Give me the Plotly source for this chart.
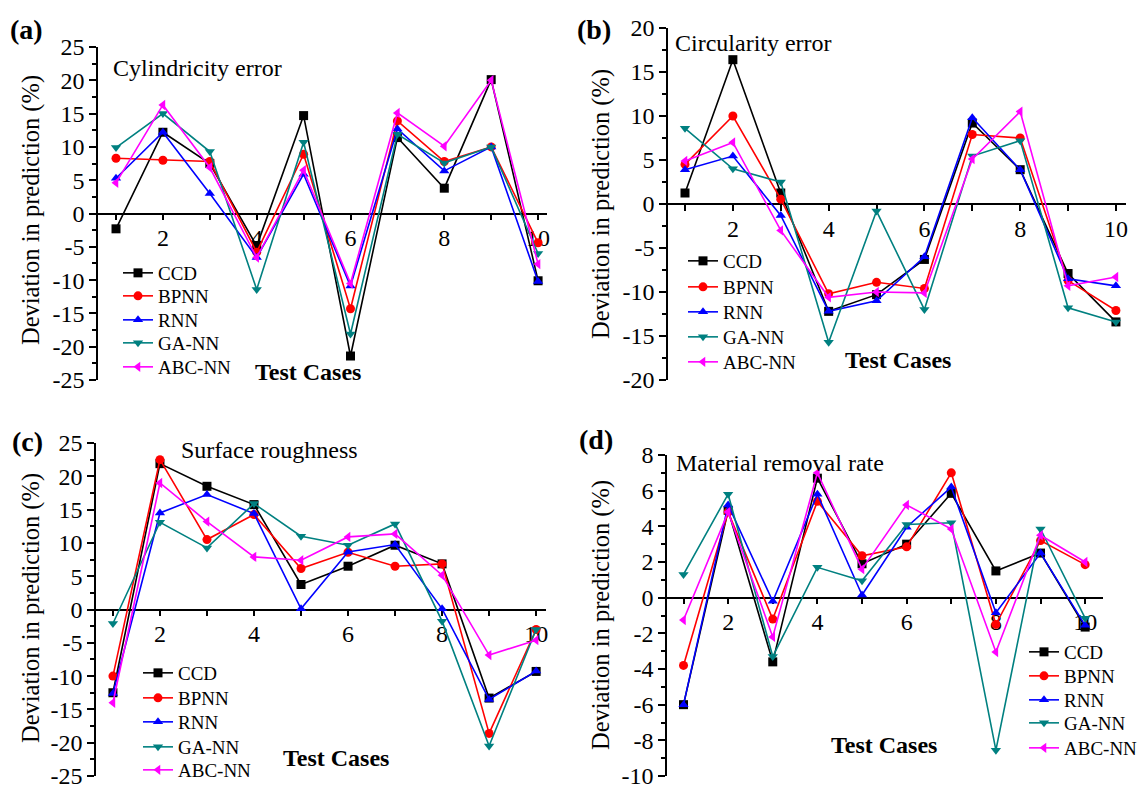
import plotly.graph_objects as go

W, H = 1145, 788

cases = [1, 2, 3, 4, 5, 6, 7, 8, 9, 10]
methods = ["CCD", "BPNN", "RNN", "GA-NN", "ABC-NN"]

# (a) Cylindricity error
cyl_ccd = [-2.3, 12.2, 7.5, -4.9, 14.7, -21.4, 11.4, 3.8, 20.1, -10.1]
cyl_bpnn = [8.3, 8.0, 7.8, -5.8, 8.9, -14.3, 13.9, 7.8, 10.0, -4.4]
cyl_rnn = [5.3, 12.2, 3.0, -6.6, 5.9, -10.9, 12.7, 6.4, 10.0, -10.2]
cyl_ga = [9.9, 15.0, 9.3, -11.4, 10.7, -18.1, 11.9, 7.6, 10.0, -6.0]
cyl_abc = [4.6, 16.3, 6.9, -6.6, 6.5, -10.5, 15.1, 10.1, 20.0, -7.6]

# (b) Circularity error
cir_ccd = [1.25, 16.4, 1.25, -12.2, -10.3, -6.3, 9.2, 3.9, -7.9, -13.4]
cir_bpnn = [4.5, 10.0, 0.55, -10.2, -8.9, -9.6, 7.9, 7.5, -8.7, -12.1]
cir_rnn = [3.9, 5.45, -1.3, -12.2, -11.0, -6.0, 9.8, 3.9, -8.5, -9.3]
cir_ga = [8.6, 4.0, 2.5, -15.7, -0.8, -12.0, 5.45, 7.2, -11.8, -13.4]
cir_abc = [4.9, 7.0, -3.0, -10.6, -10.0, -10.1, 5.1, 10.5, -9.3, -8.3]

# (c) Surface roughness
sr_ccd = [-12.5, 21.9, 18.5, 15.75, 3.75, 6.5, 9.65, 6.85, -13.3, -9.3]
sr_bpnn = [-10.0, 22.5, 10.5, 14.25, 6.15, 8.6, 6.5, 6.85, -18.6, -3.0]
sr_rnn = [-12.6, 14.5, 17.25, 14.4, 0.1, 8.65, 9.75, 0.1, -13.5, -9.25]
sr_ga = [-2.1, 13.1, 9.25, 15.9, 11.0, 9.65, 12.85, -1.75, -20.5, -3.0]
sr_abc = [-14.0, 19.0, 13.2, 7.9, 7.4, 10.9, 11.35, 5.15, -6.85, -4.6]

# (d) Material removal rate
mrr_ccd = [-6.0, 4.9, -3.6, 6.7, 1.9, 3.0, 5.85, 1.5, 2.5, -1.65]
mrr_bpnn = [-3.8, 4.8, -1.2, 5.4, 2.35, 2.85, 7.0, -1.5, 3.2, 1.85]
mrr_rnn = [-6.0, 5.2, -0.2, 5.8, 0.15, 3.95, 6.2, -0.85, 2.5, -1.55]
mrr_ga = [1.3, 5.8, -3.3, 1.7, 0.95, 4.1, 4.2, -8.55, 3.85, -1.15]
mrr_abc = [-1.25, 4.8, -2.2, 7.0, 1.6, 5.2, 3.85, -3.05, 3.5, 2.0]

panel_titles = ["Cylindricity error", "Circularity error", "Surface roughness", "Material removal rate"]
panel_tags = ["(a)", "(b)", "(c)", "(d)"]
y_title = "Deviation in prediction (%)"
x_title = "Test Cases"

yticks_25 = [-25, -20, -15, -10, -5, 0, 5, 10, 15, 20, 25]
yticks_20 = [-20, -15, -10, -5, 0, 5, 10, 15, 20]
yticks_8 = [-10, -8, -6, -4, -2, 0, 2, 4, 6, 8]
xticks = [2, 4, 6, 8, 10]

colors = ["#000000", "#ff0000", "#0000ff", "#008080", "#ff00ff"]
symbols = ["square", "circle", "triangle-up", "triangle-down", "triangle-left"]

data = [
    [cyl_ccd, cyl_bpnn, cyl_rnn, cyl_ga, cyl_abc],
    [cir_ccd, cir_bpnn, cir_rnn, cir_ga, cir_abc],
    [sr_ccd, sr_bpnn, sr_rnn, sr_ga, sr_abc],
    [mrr_ccd, mrr_bpnn, mrr_rnn, mrr_ga, mrr_abc],
]

# panel geometry in pixels: (left, right, top, bottom)
geo = [(98, 547, 47, 380), (668, 1126, 28, 380), (96, 546, 443, 776), (667, 1103, 455, 776)]
xranges = [[0.616, 10.19], [0.645, 10.21], [0.64, 10.21], [0.63, 10.4]]
yranges = [[-25, 25], [-20, 20], [-25, 25], [-10, 8]]
ytickset = [yticks_25, yticks_20, yticks_25, yticks_8]
ydticks = [5, 5, 5, 2]

# legend placement (pixels): left edge and entry centres
legend_left = [118, 683, 138, 1024]
legend_rows = [[273, 296, 320, 343, 367], [261, 287, 312, 337, 362],
               [673, 698, 722, 747, 770], [652, 676, 700, 723, 748]]

def px(x):
    return x / W

def py(y):
    return 1 - y / H

FONT = "Liberation Serif"

fig = go.Figure()
layout = dict(width=W, height=H, margin=dict(l=0, r=0, t=0, b=0, autoexpand=False),
              paper_bgcolor="white", plot_bgcolor="white", showlegend=True,
              font=dict(family=FONT, color="black"))

k = 0
for p in range(4):
    xa = "x" if p == 0 else f"x{p+1}"
    ya = "y" if p == 0 else f"y{p+1}"
    for m in range(5):
        k += 1
        lg = "legend" if k == 1 else f"legend{k}"
        fig.add_trace(go.Scatter(
            x=cases, y=data[p][m], name=methods[m], mode="lines+markers",
            line=dict(color=colors[m], width=1.6),
            marker=dict(symbol=symbols[m], size=9, color=colors[m]),
            xaxis=xa, yaxis=ya, legend=lg,
        ))
        layout[lg] = dict(x=px(legend_left[p]), y=py(legend_rows[p][m]), xanchor="left", yanchor="middle",
                          bgcolor="rgba(0,0,0,0)", font=dict(family=FONT, size=19, color="black"),
                          itemwidth=30)

annotations = []
for p in range(4):
    l, r, t, b = geo[p]
    ydom = [py(b), py(t)]
    xdom = [px(l), px(r)]
    y0, y1 = yranges[p]
    zero_pos = ydom[0] + (0 - y0) / (y1 - y0) * (ydom[1] - ydom[0])
    xk = "xaxis" if p == 0 else f"xaxis{p+1}"
    yk = "yaxis" if p == 0 else f"yaxis{p+1}"
    xa = "x" if p == 0 else f"x{p+1}"
    layout[xk] = dict(domain=xdom, range=xranges[p], anchor="free", position=zero_pos,
                      showline=True, linecolor="black", linewidth=1.5, showgrid=False,
                      zeroline=False, ticks="outside", ticklen=6, tickwidth=1.5, tickcolor="black",
                      tickvals=xticks, ticktext=[str(v) for v in xticks],
                      minor=dict(tickvals=cases, ticks="outside", ticklen=6, tickwidth=1.5, tickcolor="black"),
                      tickfont=dict(family=FONT, size=24, color="black"), layer="below traces",
                      ticklabelstandoff=-3, ticklabeloverflow="allow")
    layout[yk] = dict(domain=ydom, range=yranges[p], anchor=xa, showline=True, linecolor="black",
                      linewidth=1.5, showgrid=False, zeroline=False, ticks="outside", ticklen=7,
                      tickwidth=1.5, tickcolor="black",
                      tickvals=ytickset[p], ticktext=[str(v) for v in ytickset[p]],
                      minor=dict(dtick=ydticks[p] / 2, ticks="outside", ticklen=4, tickwidth=1.5, tickcolor="black"),
                      tickfont=dict(family=FONT, size=24, color="black"), ticklabelstandoff=0,
                      ticklabeloverflow="allow")

# text placements (pixels)
tag_pos = [(8, 29), (575, 29), (10, 442), (577, 439)]
title_pos = [(111, 68), (673, 43), (179, 450), (674, 463)]
ytitle_pos = [(31, 210), (601, 204), (31, 608), (601, 615)]
xtitle_pos = [(308, 372), (898, 360), (336, 758), (884, 745)]

for p in range(4):
    annotations.append(dict(text=panel_tags[p], x=px(tag_pos[p][0]), y=py(tag_pos[p][1]), xref="paper", yref="paper",
                            xanchor="left", yanchor="middle", showarrow=False,
                            font=dict(family=FONT, size=28, color="black", weight="bold")))
    annotations.append(dict(text=panel_titles[p], x=px(title_pos[p][0]), y=py(title_pos[p][1]), xref="paper", yref="paper",
                            xanchor="left", yanchor="middle", showarrow=False,
                            font=dict(family=FONT, size=24, color="black")))
    annotations.append(dict(text=y_title, x=px(ytitle_pos[p][0]), y=py(ytitle_pos[p][1]), xref="paper", yref="paper",
                            xanchor="center", yanchor="middle", showarrow=False, textangle=-90,
                            font=dict(family=FONT, size=24.5, color="black")))
    annotations.append(dict(text=x_title, x=px(xtitle_pos[p][0]), y=py(xtitle_pos[p][1]), xref="paper", yref="paper",
                            xanchor="center", yanchor="middle", showarrow=False,
                            font=dict(family=FONT, size=24, color="black", weight="bold")))

layout["annotations"] = annotations
fig.update_layout(**layout)
fig.write_html("out.html")
